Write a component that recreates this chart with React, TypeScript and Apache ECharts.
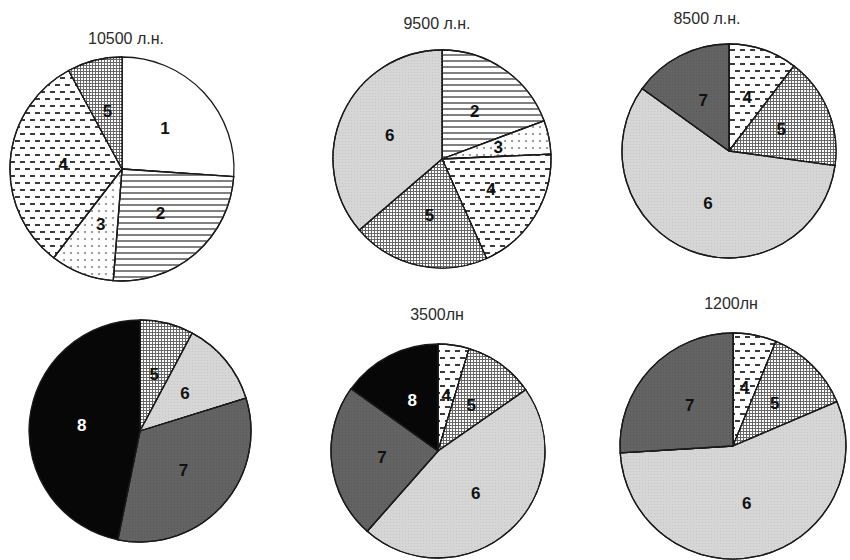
import React, { useEffect, useRef } from "react";
import * as echarts from "echarts";

// ---- data (percent shares, clockwise from 12 o'clock) ----
const titles = ["10500 л.н.", "9500 л.н.", "8500 л.н.", "", "3500лн", "1200лн"];

const pie1Categories = ["1", "2", "3", "4", "5"];
const pie1Values = [26.1, 25.2, 9.2, 31.7, 7.9];

const pie2Categories = ["2", "3", "4", "5", "6"];
const pie2Values = [19.3, 5.0, 19.0, 20.4, 36.3];

const pie3Categories = ["4", "5", "6", "7"];
const pie3Values = [10.4, 16.8, 57.8, 15.1];

const pie4Categories = ["5", "6", "7", "8"];
const pie4Values = [7.8, 12.4, 33.0, 46.8];

const pie5Categories = ["4", "5", "6", "7", "8"];
const pie5Values = [4.7, 10.6, 46.2, 23.4, 15.1];

const pie6Categories = ["4", "5", "6", "7"];
const pie6Values = [6.2, 12.4, 55.5, 26.0];

const pies = [
  { cats: pie1Categories, vals: pie1Values },
  { cats: pie2Categories, vals: pie2Values },
  { cats: pie3Categories, vals: pie3Values },
  { cats: pie4Categories, vals: pie4Values },
  { cats: pie5Categories, vals: pie5Values },
  { cats: pie6Categories, vals: pie6Values },
];

// ---- layout (pixels) ----
const centers: [number, number][] = [
  [122, 169],
  [442, 159],
  [729, 151],
  [140, 431],
  [438, 451],
  [733, 446],
];
const radii = [112, 109, 107, 111, 107, 113];
const titlePos: [number, number][] = [
  [126, 38],
  [437, 23],
  [707, 18],
  [0, 0],
  [437, 314],
  [731, 303],
];

// ---- category styles ----
const catColor: Record<string, string> = {
  "1": "#ffffff",
  "2": "#ffffff",
  "3": "#ffffff",
  "4": "#ffffff",
  "5": "#686868",
  "6": "#d6d6d6",
  "7": "#636363",
  "8": "#070707",
};
const catDecal: Record<string, any> = {
  "2": {
    symbol: "rect",
    symbolSize: 1,
    dashArrayX: [1, 0],
    dashArrayY: [1.1, 3.2],
    color: "#808080",
    backgroundColor: "#ffffff",
  },
  "3": {
    symbol: "circle",
    symbolSize: 1,
    dashArrayX: [1.5, 4.5],
    dashArrayY: [1.5, 4.5],
    color: "#8a8a8a",
    backgroundColor: "#ffffff",
  },
  "4": {
    symbol: "rect",
    symbolSize: 1,
    dashArrayX: [
      [4.5, 4.5],
      [0, 4.5, 4.5, 0],
    ],
    dashArrayY: [1.4, 4.6],
    color: "#3a3a3a",
    backgroundColor: "#ffffff",
  },
  "5": {
    symbol: "rect",
    symbolSize: 1,
    dashArrayX: [2, 1],
    dashArrayY: [2, 1],
    color: "#ffffff",
  },
  "6": {
    symbol: "rect",
    symbolSize: 1,
    dashArrayX: [1, 2],
    dashArrayY: [1, 2],
    color: "#c6c6c6",
    backgroundColor: "#d8d8d8",
  },
  "7": {
    symbol: "rect",
    symbolSize: 1,
    dashArrayX: [1, 2],
    dashArrayY: [1, 2],
    color: "#585858",
    backgroundColor: "#676767",
  },
};

export default function App() {
  const ref = useRef<HTMLDivElement>(null);

  useEffect(() => {
    document.body.style.margin = "0";
    if (!ref.current) return;
    const chart = echarts.init(ref.current, undefined, { renderer: "svg" });

    const series = pies.map((p, i) => ({
      type: "pie",
      center: centers[i],
      radius: radii[i],
      startAngle: 90,
      clockwise: true,
      silent: true,
      avoidLabelOverlap: false,
      label: {
        show: true,
        position: "inside",
        formatter: "{b}",
        fontFamily: "Liberation Sans, Arial, sans-serif",
        fontWeight: "bold",
        fontSize: 17,
        color: "#111",
      },
      labelLine: { show: false },
      itemStyle: { borderColor: "#1a1a1a", borderWidth: 1.3 },
      data: p.cats.map((c, j) => ({
        name: c,
        value: p.vals[j],
        itemStyle: {
          color: catColor[c],
          decal: catDecal[c],
        },
        label: c === "8" ? { color: "#ffffff" } : undefined,
      })),
    }));

    const graphic = titles
      .map((t, i) =>
        t
          ? {
              type: "text",
              x: titlePos[i][0],
              y: titlePos[i][1],
              style: {
                text: t,
                align: "center",
                verticalAlign: "middle",
                fontFamily: "Liberation Sans, Arial, sans-serif",
                fontSize: 16,
                fill: "#2a2a2a",
              },
            }
          : null
      )
      .filter(Boolean);

    chart.setOption({
      animation: false,
      backgroundColor: "#ffffff",
      graphic,
      series,
    } as any);

    return () => {
      chart.dispose();
    };
  }, []);

  return <div ref={ref} style={{ width: 850, height: 560 }} />;
}
